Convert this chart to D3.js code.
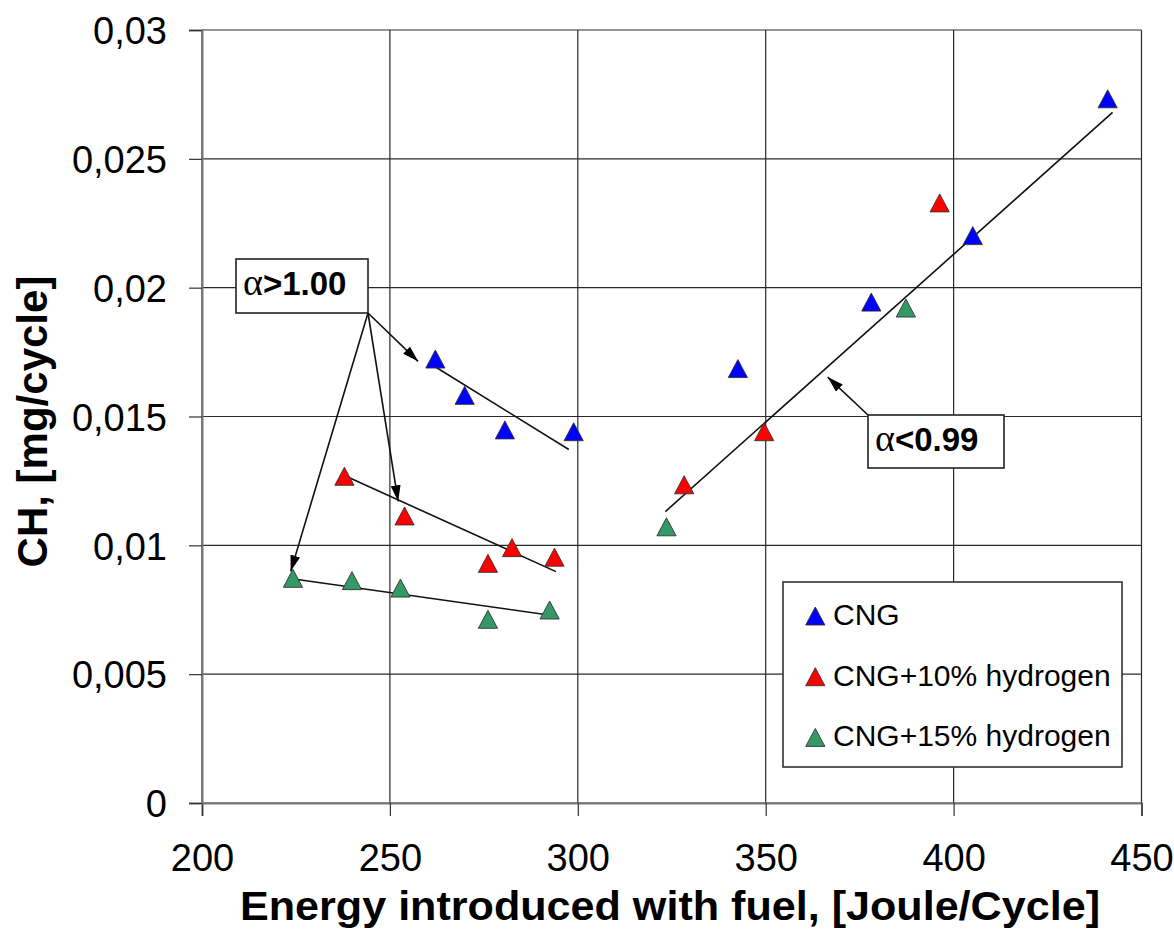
<!DOCTYPE html>
<html>
<head>
<meta charset="utf-8">
<script src="https://cdn.jsdelivr.net/npm/d3@7"></script>
<style>
  html, body { margin: 0; padding: 0; background: #fff; }
  svg { display: block; font-family: "Liberation Sans", Arial, sans-serif; }
</style>
</head>
<body>
<svg id="chart" width="1174" height="930"></svg>
<script>
// Measured CH emissions versus fuel energy per cycle
const xTicks = [200, 250, 300, 350, 400, 450];
const yTicks = [0, 0.005, 0.01, 0.015, 0.02, 0.025, 0.03];
const yTickLabels = ["0", "0,005", "0,01", "0,015", "0,02", "0,025", "0,03"];

const seriesNames = ["CNG", "CNG+10% hydrogen", "CNG+15% hydrogen"];
const seriesColors = ["#0000ff", "#ff0000", "#339966"];

const cngX = [262.1, 269.9, 280.6, 298.9, 342.6, 378.1, 405.1, 441.0];
const cngY = [0.01723, 0.01582, 0.01448, 0.01441, 0.01686, 0.01944, 0.02202, 0.02733];

const h10X = [237.9, 253.9, 276.1, 282.5, 293.8, 328.3, 349.6, 396.3];
const h10Y = [0.01268, 0.01114, 0.0093, 0.00991, 0.00954, 0.01235, 0.01441, 0.02329];

const h15X = [224.2, 239.9, 252.8, 276.1, 292.5, 323.6, 387.3];
const h15Y = [0.00872, 0.00863, 0.00834, 0.00713, 0.00749, 0.01072, 0.01921];

// Trend lines: [x1, y1, x2, y2]
const trendLines = [
  [261.4, 0.01699, 297.6, 0.01372],
  [237.6, 0.01273, 294.2, 0.00898],
  [223.0, 0.00872, 294.2, 0.00726],
  [323.3, 0.01131, 442.3, 0.02680]
];

// Annotation arrow targets (data coordinates)
const leanArrowTargets = [[257.5, 0.01714], [252.2, 0.01171], [223.6, 0.00899]];
const richArrowTarget = [366.5, 0.01653];

const svg = d3.select("#chart");
const x = d3.scaleLinear().domain([200, 450]).range([202, 1141.5]);
const y = d3.scaleLinear().domain([0, 0.03]).range([803, 30]);

const defs = svg.append("defs");
defs.append("marker")
  .attr("id", "arrowhead")
  .attr("viewBox", "0 0 16 10")
  .attr("refX", 16).attr("refY", 5)
  .attr("markerWidth", 16).attr("markerHeight", 10)
  .attr("markerUnits", "userSpaceOnUse")
  .attr("orient", "auto")
  .append("path").attr("d", "M0,0 L16,5 L0,10 Z").attr("fill", "#000");

// Grid
const grid = svg.append("g");
grid.selectAll("line.h").data(yTicks).join("line")
  .attr("x1", x(200)).attr("x2", x(450))
  .attr("y1", d => y(d)).attr("y2", d => y(d))
  .attr("stroke", "#2a2a2a").attr("stroke-width", 1.2);
grid.selectAll("line.v").data(xTicks).join("line")
  .attr("y1", y(0)).attr("y2", y(0.03))
  .attr("x1", d => x(d)).attr("x2", d => x(d))
  .attr("stroke", "#2a2a2a").attr("stroke-width", 1.2);

// Axes
const xAxis = svg.append("g").attr("transform", `translate(0,${y(0)})`)
  .call(d3.axisBottom(x).tickValues(xTicks).tickSize(13).tickPadding(28).tickFormat(d3.format("d")));
const yAxis = svg.append("g").attr("transform", `translate(${x(200)},0)`)
  .call(d3.axisLeft(y).tickValues(yTicks).tickSize(13).tickPadding(22)
    .tickFormat((d, i) => yTickLabels[i]));
[xAxis, yAxis].forEach(a => {
  a.select(".domain").attr("stroke", "#777").attr("stroke-width", 2);
  a.selectAll(".tick line").attr("stroke", "#333").attr("stroke-width", 1.2);
  a.selectAll(".tick text").attr("fill", "#000")
    .style("font-family", "'Liberation Sans', Arial, sans-serif").style("font-size", "38px");
});
yAxis.selectAll(".tick text").attr("dy", "0.36em");

// Axis titles
svg.append("text")
  .attr("x", 240).attr("y", 920)
  .attr("textLength", 860).attr("lengthAdjust", "spacingAndGlyphs")
  .style("font-size", "40px").style("font-weight", "bold")
  .text("Energy introduced with fuel, [Joule/Cycle]");
svg.append("text")
  .attr("transform", `translate(47,${(268 + 575) / 2}) rotate(-90)`)
  .attr("text-anchor", "middle")
  .style("font-size", "42px").style("font-weight", "bold")
  .text("CH, [mg/cycle]");

// Trend lines
svg.append("g").selectAll("line").data(trendLines).join("line")
  .attr("x1", d => x(d[0])).attr("y1", d => y(d[1]))
  .attr("x2", d => x(d[2])).attr("y2", d => y(d[3]))
  .attr("stroke", "#111").attr("stroke-width", 1.6);

// Triangle marker path centred on a point
function tri(cx, cy) {
  const hw = 9.6, hh = 9;
  return `M${cx},${cy - hh} L${cx + hw},${cy + hh} L${cx - hw},${cy + hh} Z`;
}

const series = [
  { xs: cngX, ys: cngY, color: seriesColors[0] },
  { xs: h10X, ys: h10Y, color: seriesColors[1] },
  { xs: h15X, ys: h15Y, color: seriesColors[2] }
];
const pts = svg.append("g");
series.forEach(s => {
  pts.selectAll(null).data(s.xs.map((v, i) => [v, s.ys[i]])).join("path")
    .attr("d", d => tri(x(d[0]), y(d[1])))
    .attr("fill", s.color).attr("stroke", "#333").attr("stroke-width", 0.9);
});

// Boxed label with a serif alpha followed by bold text
function boxedLabel(g, box, rest) {
  g.append("rect").attr("x", box.x).attr("y", box.y)
    .attr("width", box.w).attr("height", box.h)
    .attr("fill", "#fff").attr("stroke", "#222").attr("stroke-width", 1.6);
  const t = g.append("text").attr("x", box.x + 7).attr("y", box.y + 36);
  t.append("tspan").style("font-family", "'Liberation Serif', 'Times New Roman', serif")
    .style("font-size", "38px").text("α");
  t.append("tspan").style("font-weight", "bold").style("font-size", "33px").text(rest);
}

// Annotation: lean mixtures
const leanBox = { x: 236, y: 259, w: 132, h: 54 };
const ann = svg.append("g");
leanArrowTargets.forEach(t => {
  ann.append("line")
    .attr("x1", leanBox.x + leanBox.w).attr("y1", leanBox.y + leanBox.h)
    .attr("x2", x(t[0])).attr("y2", y(t[1]))
    .attr("stroke", "#111").attr("stroke-width", 1.6)
    .attr("marker-end", "url(#arrowhead)");
});
boxedLabel(ann, leanBox, ">1.00");

// Annotation: rich mixtures
const richBox = { x: 868, y: 415, w: 136, h: 53 };
ann.append("line")
  .attr("x1", richBox.x).attr("y1", richBox.y)
  .attr("x2", x(richArrowTarget[0])).attr("y2", y(richArrowTarget[1]))
  .attr("stroke", "#111").attr("stroke-width", 1.6)
  .attr("marker-end", "url(#arrowhead)");
boxedLabel(ann, richBox, "<0.99");

// Legend
const legend = svg.append("g");
legend.append("rect").attr("x", 783).attr("y", 582).attr("width", 339).attr("height", 185)
  .attr("fill", "#fff").attr("stroke", "#333").attr("stroke-width", 1.6);
seriesNames.forEach((name, i) => {
  const cy = 616 + i * 60.7;
  legend.append("path").attr("d", tri(815.3, cy))
    .attr("fill", seriesColors[i]).attr("stroke", "#333").attr("stroke-width", 0.9);
  legend.append("text").attr("x", 833).attr("y", cy + 9)
    .style("font-size", "30px").attr("fill", "#000").text(name);
});
</script>
</body>
</html>
